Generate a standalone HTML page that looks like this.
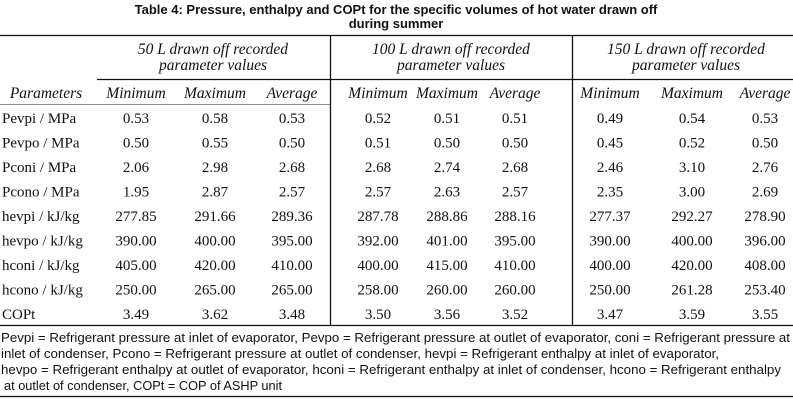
<!DOCTYPE html>
<html><head><meta charset="utf-8"><style>
html,body{margin:0;padding:0;background:#fff;width:793px;height:404px;overflow:hidden}
svg{display:block}
.t{font-family:"Liberation Sans",sans-serif;font-weight:bold;font-size:13px}
.h{font-family:"Liberation Serif",serif;font-style:italic;font-size:15.5px}
.v{font-family:"Liberation Serif",serif;font-size:15px}
.f{font-family:"Liberation Sans",sans-serif;font-size:12.5px}
</style></head><body>
<svg width="793" height="404" viewBox="0 0 793 404" xmlns="http://www.w3.org/2000/svg" fill="#111">
<text class="t" x="396" y="14" text-anchor="middle">Table 4: Pressure, enthalpy and COPt for the specific volumes of hot water drawn off</text>
<text class="t" x="396" y="28" text-anchor="middle">during summer</text>
<g stroke="#111" stroke-width="1.3">
<line x1="0" y1="35.5" x2="793" y2="35.5"/>
<line x1="97" y1="79.5" x2="793" y2="79.5"/>
<line x1="0" y1="104.5" x2="330" y2="104.5" stroke-width="0.8" stroke="#666"/>
<line x1="0" y1="325.5" x2="793" y2="325.5"/>
<line x1="0" y1="396.5" x2="793" y2="396.5"/>
<line x1="330.5" y1="35" x2="330.5" y2="326"/>
<line x1="572.5" y1="35" x2="572.5" y2="326"/>
</g>
<g class="h" text-anchor="middle">
<text x="213" y="54">50 L drawn off recorded</text><text x="213" y="70">parameter values</text>
<text x="451" y="54">100 L drawn off recorded</text><text x="451" y="70">parameter values</text>
<text x="686" y="54">150 L drawn off recorded</text><text x="686" y="70">parameter values</text>
<text x="46" y="98">Parameters</text>
<text x="136" y="98">Minimum</text><text x="215" y="98">Maximum</text><text x="292" y="98">Average</text>
<text x="378" y="98">Minimum</text><text x="447" y="98">Maximum</text><text x="515" y="98">Average</text>
<text x="610" y="98">Minimum</text><text x="692" y="98">Maximum</text><text x="765" y="98">Average</text>
</g>
<g class="v">
<text x="2" y="123">Pevpi / MPa</text>
<text x="2" y="147.5">Pevpo / MPa</text>
<text x="2" y="172">Pconi / MPa</text>
<text x="2" y="196.5">Pcono / MPa</text>
<text x="2" y="221">hevpi / kJ/kg</text>
<text x="2" y="245.5">hevpo / kJ/kg</text>
<text x="2" y="270">hconi / kJ/kg</text>
<text x="2" y="294.5">hcono / kJ/kg</text>
<text x="2" y="319">COPt</text>
</g>
<g class="v" text-anchor="middle">
<g transform="translate(0,123)"><text x="136">0.53</text><text x="215">0.58</text><text x="292">0.53</text><text x="378">0.52</text><text x="447">0.51</text><text x="515">0.51</text><text x="610">0.49</text><text x="692">0.54</text><text x="765">0.53</text></g>
<g transform="translate(0,147.5)"><text x="136">0.50</text><text x="215">0.55</text><text x="292">0.50</text><text x="378">0.51</text><text x="447">0.50</text><text x="515">0.50</text><text x="610">0.45</text><text x="692">0.52</text><text x="765">0.50</text></g>
<g transform="translate(0,172)"><text x="136">2.06</text><text x="215">2.98</text><text x="292">2.68</text><text x="378">2.68</text><text x="447">2.74</text><text x="515">2.68</text><text x="610">2.46</text><text x="692">3.10</text><text x="765">2.76</text></g>
<g transform="translate(0,196.5)"><text x="136">1.95</text><text x="215">2.87</text><text x="292">2.57</text><text x="378">2.57</text><text x="447">2.63</text><text x="515">2.57</text><text x="610">2.35</text><text x="692">3.00</text><text x="765">2.69</text></g>
<g transform="translate(0,221)"><text x="136">277.85</text><text x="215">291.66</text><text x="292">289.36</text><text x="378">287.78</text><text x="447">288.86</text><text x="515">288.16</text><text x="610">277.37</text><text x="692">292.27</text><text x="765">278.90</text></g>
<g transform="translate(0,245.5)"><text x="136">390.00</text><text x="215">400.00</text><text x="292">395.00</text><text x="378">392.00</text><text x="447">401.00</text><text x="515">395.00</text><text x="610">390.00</text><text x="692">400.00</text><text x="765">396.00</text></g>
<g transform="translate(0,270)"><text x="136">405.00</text><text x="215">420.00</text><text x="292">410.00</text><text x="378">400.00</text><text x="447">415.00</text><text x="515">410.00</text><text x="610">400.00</text><text x="692">420.00</text><text x="765">408.00</text></g>
<g transform="translate(0,294.5)"><text x="136">250.00</text><text x="215">265.00</text><text x="292">265.00</text><text x="378">258.00</text><text x="447">260.00</text><text x="515">260.00</text><text x="610">250.00</text><text x="692">261.28</text><text x="765">253.40</text></g>
<g transform="translate(0,319)"><text x="136">3.49</text><text x="215">3.62</text><text x="292">3.48</text><text x="378">3.50</text><text x="447">3.56</text><text x="515">3.52</text><text x="610">3.47</text><text x="692">3.59</text><text x="765">3.55</text></g>
</g>
<g class="f">
<text x="1" y="342" textLength="789" lengthAdjust="spacingAndGlyphs">Pevpi = Refrigerant pressure at inlet of evaporator, Pevpo = Refrigerant pressure at outlet of evaporator, coni = Refrigerant pressure at</text>
<text x="1" y="358" textLength="718" lengthAdjust="spacingAndGlyphs">inlet of condenser, Pcono = Refrigerant pressure at outlet of condenser,  hevpi = Refrigerant enthalpy at inlet of evaporator,</text>
<text x="1" y="374" textLength="780" lengthAdjust="spacingAndGlyphs">hevpo = Refrigerant enthalpy at outlet of evaporator, hconi = Refrigerant enthalpy at inlet of condenser, hcono = Refrigerant enthalpy</text>
<text x="4" y="390" textLength="278" lengthAdjust="spacingAndGlyphs">at outlet of condenser, COPt = COP of ASHP unit</text>
</g>
</svg>
</body></html>
